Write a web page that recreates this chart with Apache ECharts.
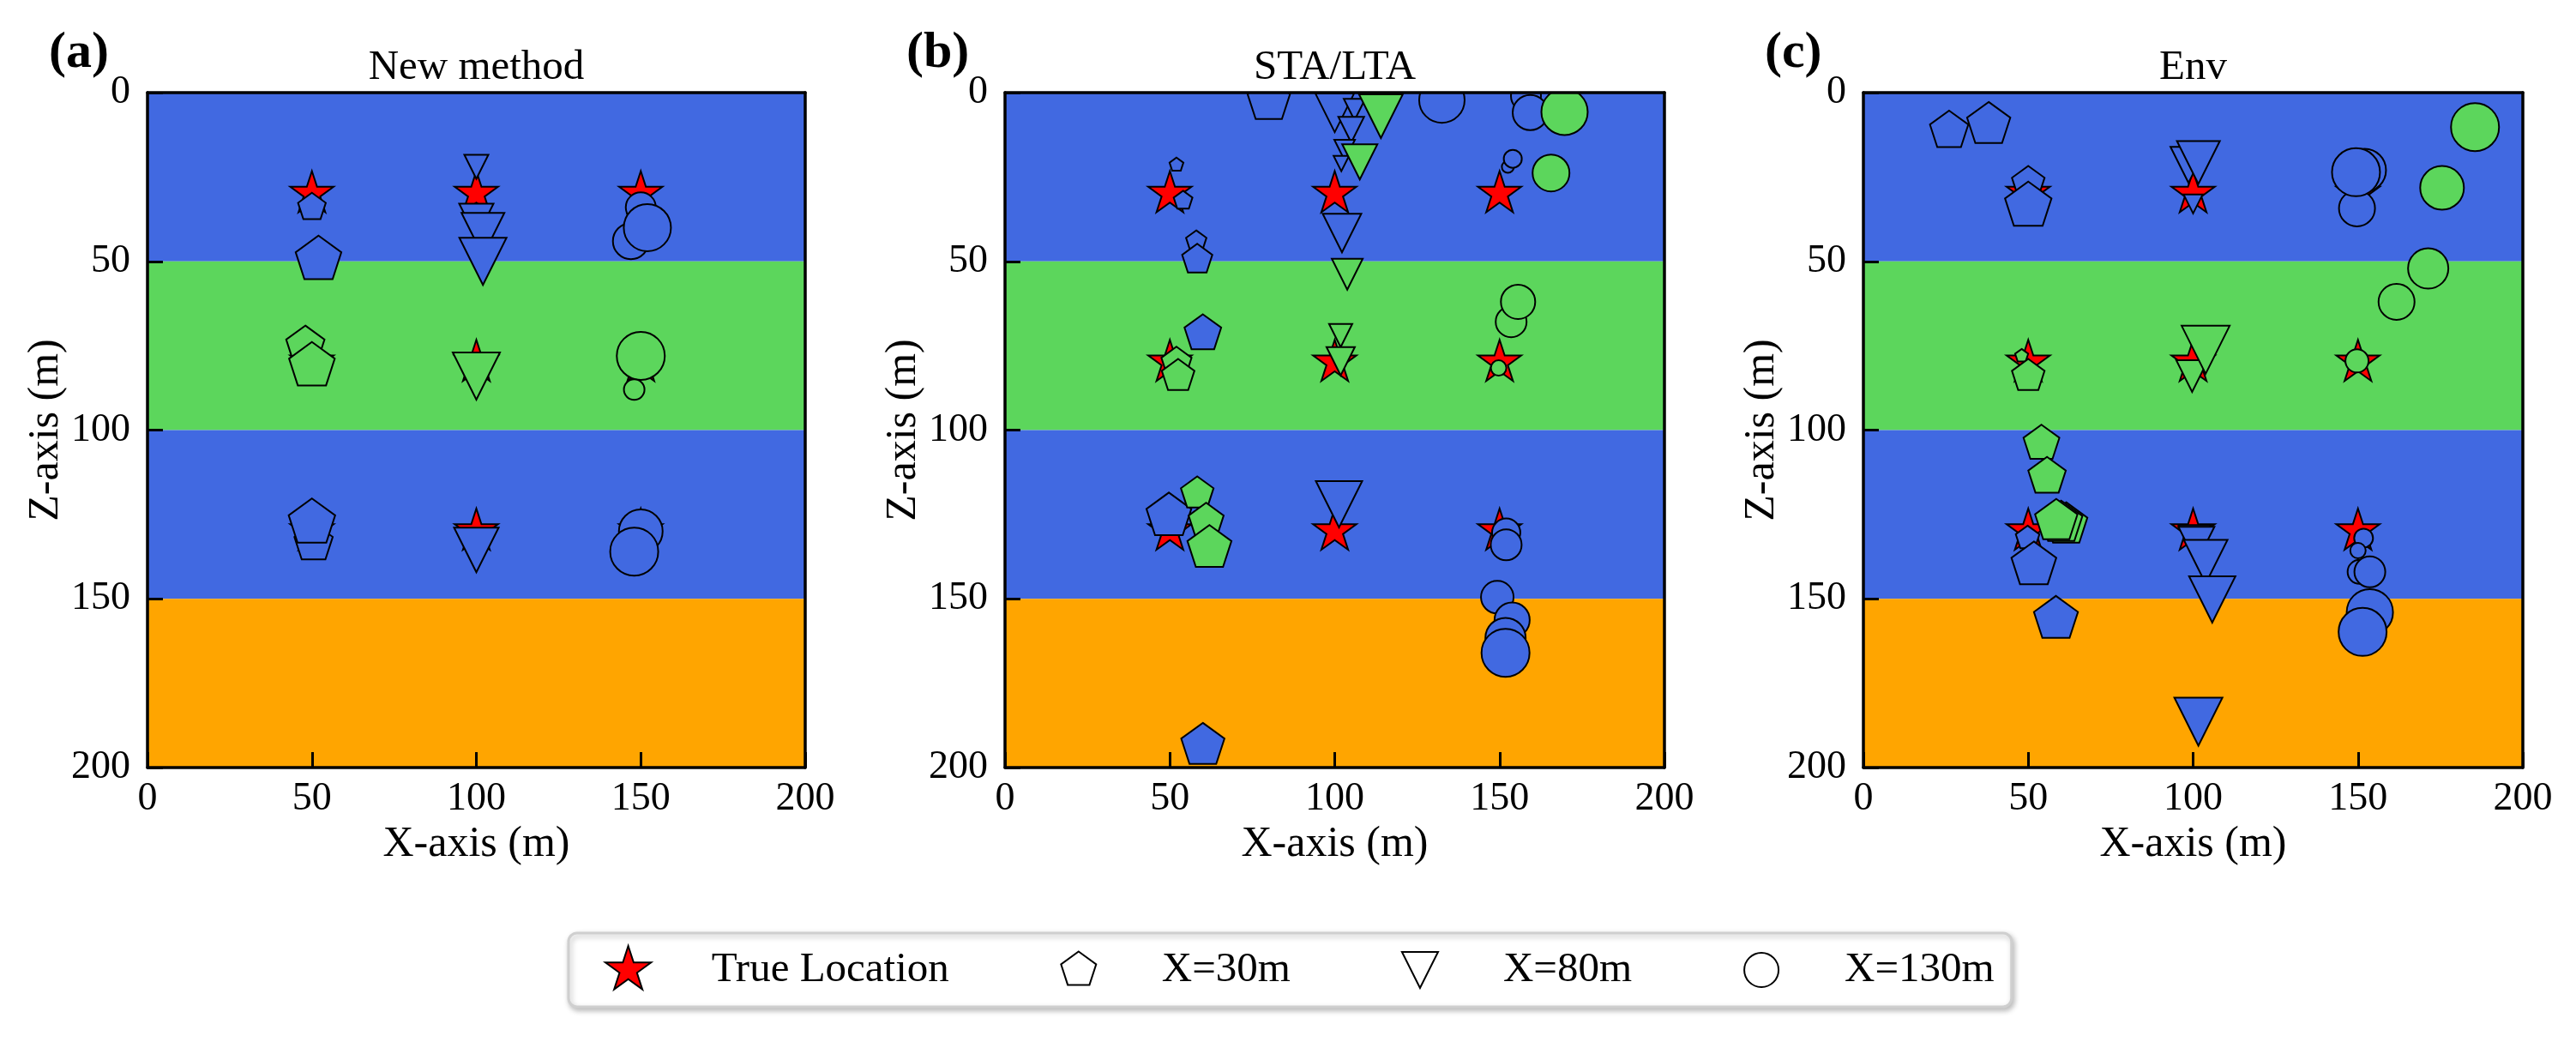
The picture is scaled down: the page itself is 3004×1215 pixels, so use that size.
<!DOCTYPE html>
<html><head><meta charset="utf-8">
<script src="https://cdn.jsdelivr.net/npm/echarts@6/dist/echarts.min.js"></script>
<style>html,body{margin:0;padding:0;background:#fff}#c{width:3004px;height:1215px}</style>
</head><body><div id="c"></div>
<script>
// ---------------- data ----------------
const panelTitles = ['New method', 'STA/LTA', 'Env'];
const panelLabels = ['(a)', '(b)', '(c)'];
const seriesNames = ['True Location', 'X=30m', 'X=80m', 'X=130m'];
const xRange = [0, 200];
const zRange = [0, 200];
const tickStep = 50;
const layerTops = [0, 50, 100, 150];
const layerBottoms = [50, 100, 150, 200];
const layerColors = ['#4169E1', '#5CD65C', '#4169E1', '#FFA500'];
const trueLocations = [[50,30],[100,30],[150,30],[50,80],[100,80],[150,80],[50,130],[100,130],[150,130]];

// estimated locations: [x (m), z (m), marker size, layer index of the true source]
const newPent = [[50,34,34,0],[52,49.5,56,0],[48,75,47,1],[50,81,56,1],[50.5,133.5,47,2],[50,127.5,57,2]];
const newTri  = [[100,22,28,0],[100,38,40,0],[102,42,50,0],[102,50,55,0],[100,84,55,1],[100,135.5,52,2]];
const newCirc = [[150,34,35,0],[147,44,42,0],[152,40,55,0],[150,78,56,1],[148,88,24,1],[150,130,51,2],[148,136,56,2]];

const staPent = [[80,2.5,52,0],[52,21.4,17,0],[54,32,23,0],[58,44,25,0],[58.3,49.5,37,0],[60,71.4,45,0],[52,80,37,1],[52.5,84,40,1],[49.7,125.5,55,2],[58.3,118.8,40,1],[61,127,43,1],[62,135,54,1],[60,193.5,53,2]];
const staTri  = [[100,6,45,0],[106,5,25,0],[105,11,30,0],[103,17,24,0],[102,21,18,0],[114,7,51,1],[107.6,20.5,41,1],[102.2,41.6,45,0],[103.8,53.8,36,1],[101.8,72,27,1],[101.8,79.6,33,1],[101.3,122,54,2]];
const staCirc = [[132.5,2.2,53,0],[158,1,35,0],[159.3,5.9,41,0],[169.7,5.7,54,1],[152.5,22,14,0],[154,19.6,21,0],[165.6,23.8,43,1],[153.5,67.9,36,1],[155.6,62,40,1],[149.7,81.6,18,1],[152,130.4,33,2],[152,134,36,2],[149.3,149.5,38,2],[153.8,156.3,41,2],[151.8,161.6,47,2],[151.8,166,56,2]];

const envPent = [[26,11.3,47,0],[38,9.5,53,0],[50,26.8,40,0],[50,33.6,57,0],[48,78,16,1],[50,84,40,1],[54,104,44,1],[55.7,113.8,46,1],[61.5,128,52,1],[60,127.5,52,1],[58.5,127,52,1],[49.8,132,29,2],[51.7,140,55,2],[58.4,156,54,2]];
const envTri  = [[98.6,21.4,42,0],[101.6,20.7,50,0],[100,33,22,0],[99.7,84,37,1],[103.8,76.2,56,1],[100.5,133,38,2],[101,134,42,2],[103.8,139,51,2],[105.8,150.2,54,2],[101.6,186.4,56,2]];
const envCirc = [[185.5,10.2,56,1],[175.5,28.2,51,1],[171.3,52.1,47,1],[161.7,62,42,1],[152,23,50,0],[149.7,34.3,42,0],[149.4,23.6,56,0],[149.7,79.5,27,1],[151.7,132,22,2],[150,135.7,18,2],[150.5,142,28,2],[153.6,142,36,2],[153.6,154,54,2],[151.4,159.8,56,2]];

const panelData = [
  [newPent, newTri, newCirc],
  [staPent, staTri, staCirc],
  [envPent, envTri, envCirc]
];

// ---------------- style ----------------
const FONT = 'Liberation Serif';
const grids = [
  {left: 172, top: 108, width: 767, height: 787},
  {left: 1172, top: 108, width: 769, height: 787},
  {left: 2173, top: 108, width: 769, height: 787}
];
const PENT = 'M0,1 M0,-1 L0.9511,-0.309 L0.5878,0.809 L-0.5878,0.809 L-0.9511,-0.309 Z';
const TRI = 'M-1,-1 L1,-1 L0,1 Z';
const STAR = 'M0,1 M0,-1 L0.2245,-0.309 L0.9511,-0.309 L0.3633,0.118 L0.5878,0.809 L0,0.382 L-0.5878,0.809 L-0.3633,0.118 L-0.9511,-0.309 L-0.2245,-0.309 Z';
const PENT_ICON = 'M-1.3,-1.3 M1.3,1.3 M0,-1 L0.9511,-0.309 L0.5878,0.809 L-0.5878,0.809 L-0.9511,-0.309 Z';
const TRI_ICON = 'M-1.33,-1.33 M1.33,1.33 M-1,-1 L1,-1 L0,1 Z';
const CIRC_ICON = 'M-1.4,-1.4 M1.4,1.4 M-1,0 A1,1 0 1 0 1,0 A1,1 0 1 0 -1,0 Z';

function markerRender(kind) {
  return function (params, api) {
    const c = api.coord([api.value(0), api.value(1)]);
    const s = api.value(2);
    const style = {fill: layerColors[api.value(3)], stroke: '#000', lineWidth: 2};
    if (kind === 'circle') {
      return {type: 'circle', shape: {cx: c[0], cy: c[1], r: s / 2}, style: style};
    }
    return {type: 'path', shape: {pathData: kind, x: c[0] - s / 2, y: c[1] - s / 2, width: s, height: s, layout: 'center'}, style: style};
  };
}
function layerRender(params, api) {
  const p0 = api.coord([xRange[0], api.value(0)]);
  const p1 = api.coord([xRange[1], api.value(1)]);
  return {type: 'rect', shape: {x: p0[0], y: p0[1], width: p1[0] - p0[0], height: p1[1] - p0[1]},
          style: {fill: layerColors[api.value(2)]}};
}
const layerData = layerTops.map((t, i) => [t, layerBottoms[i], i]);

const option = {
  animation: false,
  backgroundColor: '#fff',
  textStyle: {fontFamily: FONT, color: '#000'},
  title: [],
  grid: grids.map(g => Object.assign({outerBoundsMode: 'none', containLabel: false, show: false}, g)),
  xAxis: [], yAxis: [], series: [],
  legend: {
    left: 663, top: 1088,
    orient: 'horizontal',
    padding: [14, 20, 14, 42],
    itemWidth: 56, itemHeight: 56, itemGap: 122,
    selectedMode: false,
    backgroundColor: '#fff',
    borderColor: '#cfcfcf', borderWidth: 3, borderRadius: 10,
    shadowColor: 'rgba(0,0,0,0.25)', shadowBlur: 6, shadowOffsetX: 2, shadowOffsetY: 3,
    textStyle: {fontFamily: FONT, fontSize: 49, color: '#000', padding: [0, 0, 0, 64]},
    data: [
      {name: seriesNames[0], icon: 'path://' + STAR, itemStyle: {color: '#FF0000', borderColor: '#000', borderWidth: 2}},
      {name: seriesNames[1], icon: 'path://' + PENT_ICON, itemStyle: {color: '#fff', borderColor: '#000', borderWidth: 2}},
      {name: seriesNames[2], icon: 'path://' + TRI_ICON, itemStyle: {color: '#fff', borderColor: '#000', borderWidth: 2}},
      {name: seriesNames[3], icon: 'path://' + CIRC_ICON, itemStyle: {color: '#fff', borderColor: '#000', borderWidth: 2}}
    ]
  }
};

const axisLineStyle = {color: '#000', width: 3.5};
const labelStyle = {fontFamily: FONT, fontSize: 46, color: '#000', fontWeight: 'normal'};
const nameStyle = {fontFamily: FONT, fontSize: 50, color: '#000', fontWeight: 'normal'};
grids.forEach((g, i) => {
  const cx = g.left + g.width / 2;
  option.title.push({text: panelTitles[i], left: cx, top: 55, textAlign: 'center', padding: 0,
    textStyle: {fontFamily: FONT, fontSize: 49, fontWeight: 'normal', color: '#000', lineHeight: 49}});
  option.title.push({text: panelLabels[i], left: g.left - 115, top: 32, padding: 0,
    textStyle: {fontFamily: FONT, fontSize: 60, fontWeight: 'bold', color: '#000', lineHeight: 60}});
  option.xAxis.push({
    gridIndex: i, type: 'value', min: xRange[0], max: xRange[1], interval: tickStep, position: 'bottom', z: 10,
    axisLine: {show: true, onZero: false, lineStyle: axisLineStyle},
    axisTick: {show: true, inside: true, length: 18, lineStyle: {color: '#000', width: 3}},
    axisLabel: Object.assign({show: true, margin: 14, showMinLabel: true, showMaxLabel: true}, labelStyle),
    splitLine: {show: false},
    name: 'X-axis (m)', nameLocation: 'middle', nameGap: 64,
    nameTextStyle: nameStyle
  });
  option.xAxis.push({
    gridIndex: i, type: 'value', min: xRange[0], max: xRange[1], position: 'top', z: 10,
    axisLine: {show: true, onZero: false, lineStyle: axisLineStyle},
    axisTick: {show: false}, axisLabel: {show: false}, splitLine: {show: false}
  });
  option.yAxis.push({
    gridIndex: i, type: 'value', min: zRange[0], max: zRange[1], interval: tickStep, inverse: true, position: 'left', z: 10,
    axisLine: {show: true, onZero: false, lineStyle: axisLineStyle},
    axisTick: {show: true, inside: true, length: 18, lineStyle: {color: '#000', width: 3}},
    axisLabel: Object.assign({show: true, margin: 20, showMinLabel: true, showMaxLabel: true}, labelStyle),
    splitLine: {show: false},
    name: 'Z-axis (m)', nameLocation: 'middle', nameGap: 88, nameRotate: 90,
    nameTextStyle: nameStyle
  });
  option.yAxis.push({
    gridIndex: i, type: 'value', min: zRange[0], max: zRange[1], inverse: true, position: 'right', z: 10,
    axisLine: {show: true, onZero: false, lineStyle: axisLineStyle},
    axisTick: {show: false}, axisLabel: {show: false}, splitLine: {show: false}
  });
  const xi = 2 * i, yi = 2 * i;
  option.series.push({
    type: 'custom', name: 'layers', xAxisIndex: xi, yAxisIndex: yi, clip: true, silent: true, z: 1,
    renderItem: layerRender, data: layerData, encode: {y: [0, 1]}
  });
  option.series.push({
    type: 'scatter', name: seriesNames[0], xAxisIndex: xi, yAxisIndex: yi, silent: true, z: 2,
    symbol: 'path://' + STAR, symbolSize: 53, symbolKeepAspect: true,
    itemStyle: {color: '#FF0000', borderColor: '#000', borderWidth: 2, opacity: 1},
    emphasis: {disabled: true},
    data: trueLocations
  });
  const kinds = [PENT, TRI, 'circle'];
  panelData[i].forEach((arr, k) => {
    option.series.push({
      type: 'custom', name: seriesNames[k + 1], xAxisIndex: xi, yAxisIndex: yi, clip: true, silent: true, z: 3,
      itemStyle: {color: '#fff', borderColor: '#000', borderWidth: 2},
      renderItem: markerRender(kinds[k]), data: arr, encode: {x: 0, y: 1}
    });
  });
});

const chart = echarts.init(document.getElementById('c'), null, {renderer: 'canvas'});
chart.setOption(option);
</script></body></html>
